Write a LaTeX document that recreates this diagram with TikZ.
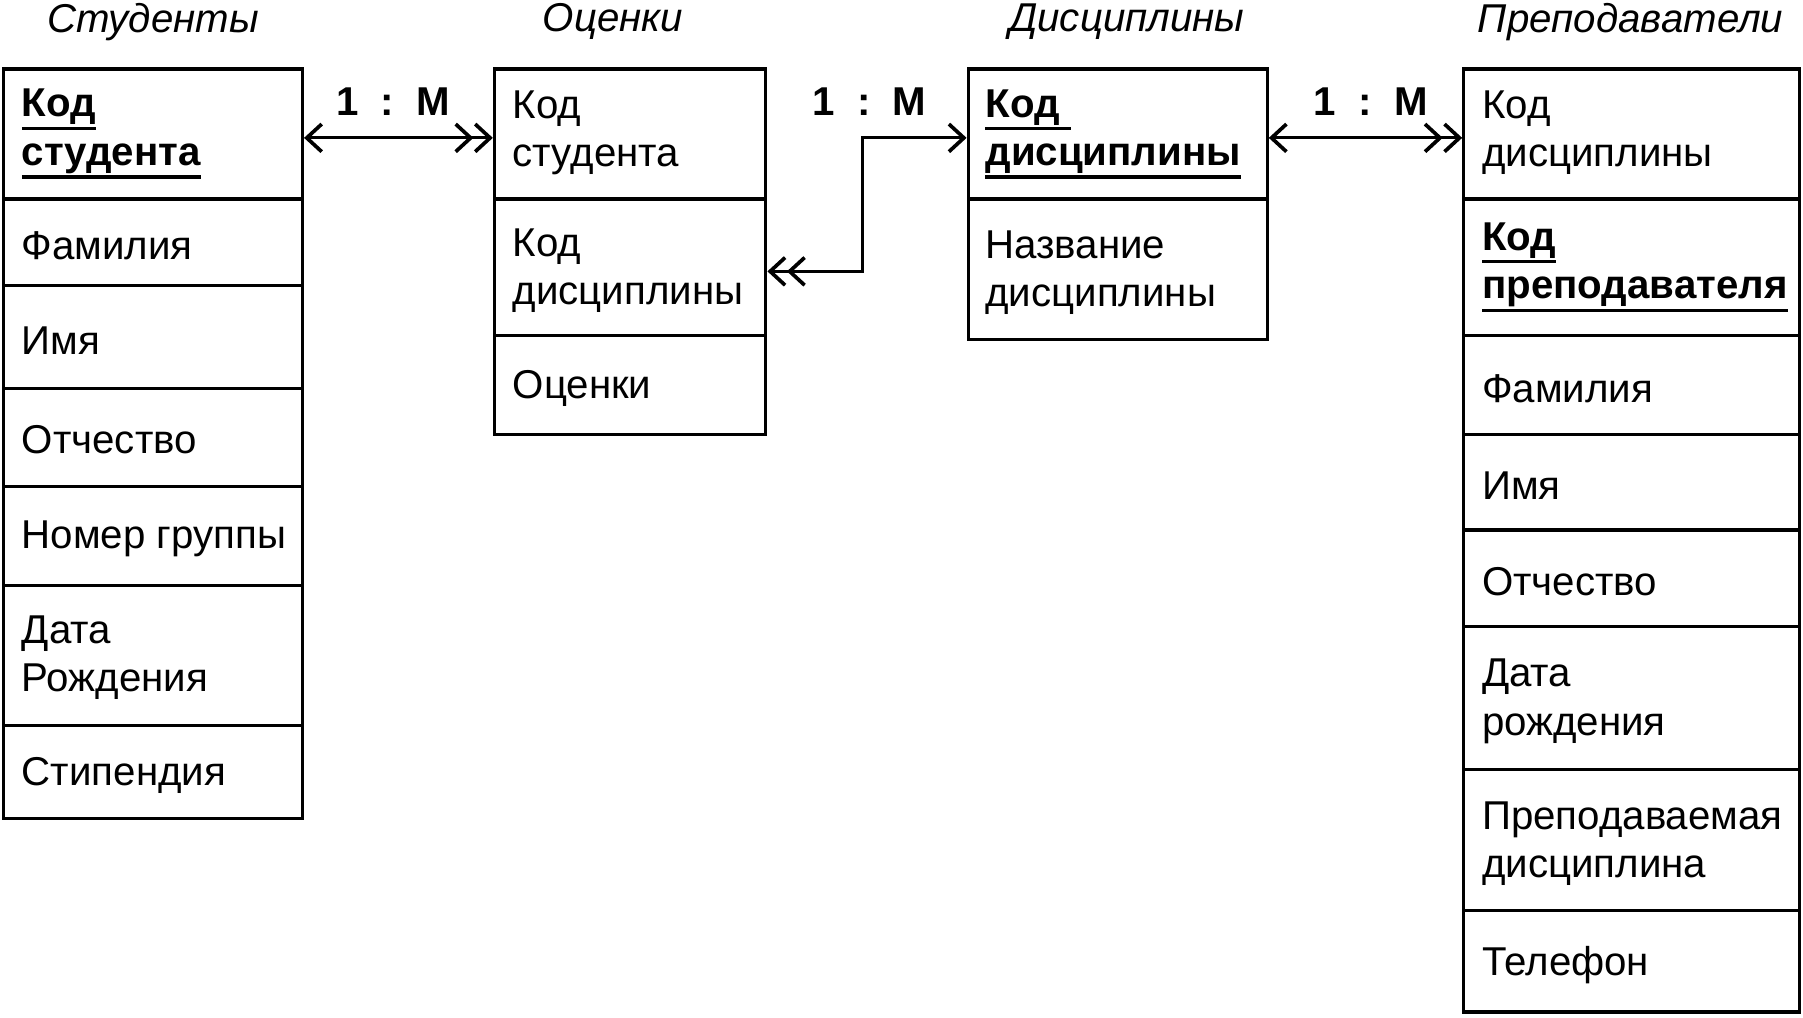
\documentclass[tikz,border=0pt]{standalone}
\usepackage{fontspec}
\setmainfont{Liberation Sans}
\usetikzlibrary{arrows.meta,fit}
\newcommand\ulx[1]{\vtop{\hbox{#1}\kern0.8pt\hrule height 1.4pt}}
\begin{document}
\begin{tikzpicture}[x=0.5pt,y=-0.5pt,
  cell/.style={draw, line width=1.4pt, inner sep=0pt},
  txt/.style={anchor=west, align=left, inner sep=0pt, font=\fontsize{17.5}{21}\selectfont},
  ttl/.style={inner sep=0pt, font=\fontsize{17.5}{21}\selectfont\itshape},
  card/.style={inner sep=0pt, font=\fontsize{17.5}{21}\selectfont\bfseries},
  link/.style={line width=1.3pt, line cap=butt},
  onemany/.style={link, {Straight Barb[length=6.5pt,width=12pt,line width=1.6pt]}-{Straight Barb[length=6.5pt,width=12pt,sep=0pt,line width=1.6pt]Straight Barb[length=6.5pt,width=12pt,line width=1.6pt]}}
]
\useasboundingbox (0,0) rectangle (1568,885);

% titles
\node[ttl] (tS) at (133,19) {Студенты};
\node[ttl] (tO) at (533,19) {Оценки};
\node[ttl] (tD) at (980,19) {Дисциплины};
\node[ttl] (tP) at (1418,19) {Преподаватели};

% Студенты
\node[cell, fit={(3,60) (263,173)}] (s1) {};
\node[cell, fit={(3,173) (263,248)}] (s2) {};
\node[cell, fit={(3,248) (263,338)}] (s3) {};
\node[cell, fit={(3,338) (263,423)}] (s4) {};
\node[cell, fit={(3,423) (263,509)}] (s5) {};
\node[cell, fit={(3,509) (263,631)}] (s6) {};
\node[cell, fit={(3,631) (263,712)}] (s7) {};
\node[txt] (s1t) at ([xshift=8.5pt,yshift=0pt]s1.west) {\bfseries\ulx{Код}\\\bfseries\ulx{студента}};
\node[txt] (s2t) at ([xshift=8.5pt,yshift=-1.5pt]s2.west) {Фамилия};
\node[txt] (s3t) at ([xshift=8.5pt,yshift=-1.5pt]s3.west) {Имя};
\node[txt] (s4t) at ([xshift=8.5pt,yshift=-1pt]s4.west) {Отчество};
\node[txt] (s5t) at ([xshift=8.5pt,yshift=-1.5pt]s5.west) {Номер группы};
\node[txt] (s6t) at ([xshift=8.5pt,yshift=-1pt]s6.west) {Дата\\Рождения};
\node[txt] (s7t) at ([xshift=8.5pt,yshift=-1.5pt]s7.west) {Стипендия};

% Оценки
\node[cell, fit={(430,60) (666,173)}] (o1) {};
\node[cell, fit={(430,173) (666,292)}] (o2) {};
\node[cell, fit={(430,292) (666,378)}] (o3) {};
\node[txt] (o1t) at ([xshift=8.5pt,yshift=0.5pt]o1.west) {Код\\студента};
\node[txt] (o2t) at ([xshift=8.5pt,yshift=-1.5pt]o2.west) {Код\\дисциплины};
\node[txt] (o3t) at ([xshift=8.5pt,yshift=-1.5pt]o3.west) {Оценки};

% Дисциплины
\node[cell, fit={(842,60) (1102,173)}] (d1) {};
\node[cell, fit={(842,173) (1102,295)}] (d2) {};
\node[txt] (d1t) at ([xshift=8pt,yshift=0pt]d1.west) {\bfseries\ulx{Код\ }\\\bfseries\ulx{дисциплины}};
\node[txt] (d2t) at ([xshift=8pt,yshift=-1.5pt]d2.west) {Название\\дисциплины};

% Преподаватели
\node[cell, fit={(1273,60) (1565,173)}] (p1) {};
\node[cell, fit={(1273,173) (1565,292)}] (p2) {};
\node[cell, fit={(1273,292) (1565,378)}] (p3) {};
\node[cell, fit={(1273,378) (1565,461)}] (p4) {};
\node[cell, fit={(1273,461) (1565,545)}] (p5) {};
\node[cell, fit={(1273,545) (1565,669)}] (p6) {};
\node[cell, fit={(1273,669) (1565,792)}] (p7) {};
\node[cell, fit={(1273,792) (1565,880)}] (p8) {};
\node[txt] (p1t) at ([xshift=8.5pt,yshift=0.5pt]p1.west) {Код\\дисциплины};
\node[txt] (p2t) at ([xshift=8.5pt,yshift=0pt]p2.west) {\bfseries\ulx{Код}\\\bfseries\ulx{преподавателя}};
\node[txt] (p3t) at ([xshift=8.5pt,yshift=-1.5pt]p3.west) {Фамилия};
\node[txt] (p4t) at ([xshift=8.5pt,yshift=-1.5pt]p4.west) {Имя};
\node[txt] (p5t) at ([xshift=8.5pt,yshift=-1.5pt]p5.west) {Отчество};
\node[txt] (p6t) at ([xshift=8.5pt,yshift=-1.5pt]p6.west) {Дата\\рождения};
\node[txt] (p7t) at ([xshift=8.5pt,yshift=-1.5pt]p7.west) {Преподаваемая\\дисциплина};
\node[txt] (p8t) at ([xshift=8.5pt,yshift=-1.5pt]p8.west) {Телефон};

% cardinality labels
\node[card] (c1) at (342,88) {1~~:~~M};
\node[card] (c2) at (756,88) {1~~:~~M};
\node[card] (c3) at (1192,88) {1~~:~~M};

% connectors
\coordinate (elbow) at (750,236);
\draw[onemany] ([yshift=-1.7pt]s1.east) -- ([yshift=-1.7pt]o1.west);
\draw[onemany] ([yshift=-1.7pt]d1.west) -- ([yshift=-1.7pt]d1.west -| elbow) -- (elbow) -- (elbow -| o2.east);
\draw[onemany] ([yshift=-1.7pt]d1.east) -- ([yshift=-1.7pt]p1.west);
\end{tikzpicture}
\end{document}
